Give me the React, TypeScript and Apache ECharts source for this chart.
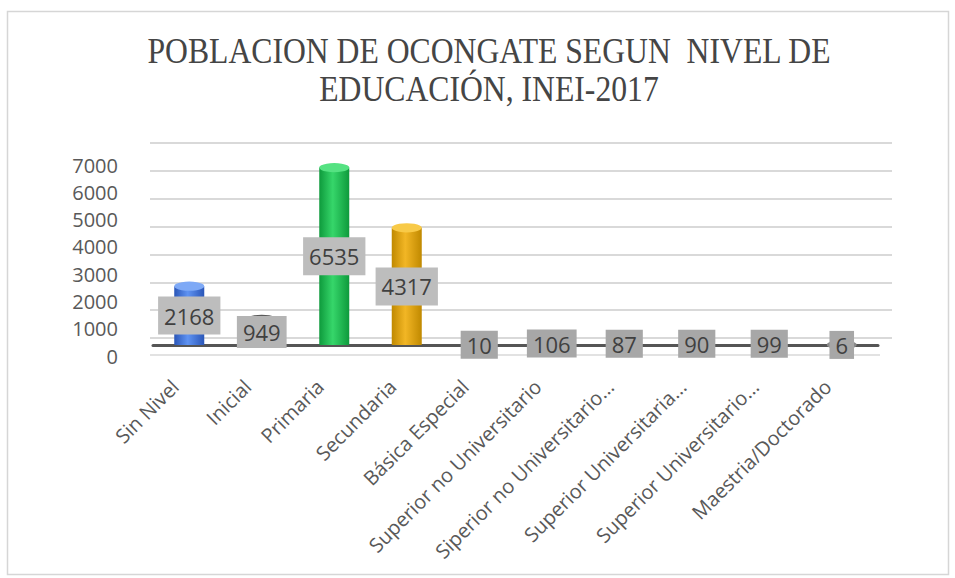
import React, { useEffect, useRef } from "react";
import * as echarts from "echarts";

const titleLines = ["POBLACION DE OCONGATE SEGUN  NIVEL DE", "EDUCACIÓN, INEI-2017"];
const categories = [
  "Sin Nivel",
  "Inicial",
  "Primaria",
  "Secundaria",
  "Básica Especial",
  "Superior no Universitario",
  "Siperior no Universitario...",
  "Superior Universitaria...",
  "Superior Universitario...",
  "Maestria/Doctorado",
];
const values = [2168, 949, 6535, 4317, 10, 106, 87, 90, 99, 6];
const yMin = 0;
const yMax = 7000;
const yStep = 1000;

const palette = [
  { side: "#2a56b8", mid: "#5f93f2", top: "#7ea9f6" },
  { side: "#6e6e6e", mid: "#9a9a9a", top: "#5a5a5a" },
  { side: "#0e9a3c", mid: "#36d66a", top: "#55e282" },
  { side: "#c08900", mid: "#f2b625", top: "#f8ca48" },
  { side: "#7a7a7a", mid: "#a8a8a8", top: "#8a8a8a" },
];

function colorFor(i: number) {
  return palette[Math.min(i, palette.length - 1)];
}

export default function App() {
  const ref = useRef<HTMLDivElement>(null);
  useEffect(() => {
    if (!ref.current) return;
    const chart = echarts.init(ref.current, undefined, { renderer: "svg" });
    const barData = values.map((v, i) => {
      const c = colorFor(i);
      return {
        value: v,
        itemStyle: {
          color: new echarts.graphic.LinearGradient(0, 0, 1, 0, [
            { offset: 0, color: c.side },
            { offset: 0.45, color: c.mid },
            { offset: 1, color: c.side },
          ]),
        },
      };
    });
    const capData = values.map((v, i) => ({
      value: v,
      itemStyle: { color: colorFor(i).top },
    }));
    const labelData = values.map((v) => {
      const big = v >= 2000;
      const mid = v >= 500;
      return {
        value: v,
        label: {
          padding: big ? [7, 6] : mid ? [4, 6] : [2, 6],
          backgroundColor: big ? "#bdbdbd" : mid ? "#b4b4b4" : "#a7a7a7",
        },
      };
    });
    const option = {
      animation: false,
      backgroundColor: "#ffffff",
      graphic: [
        {
          type: "rect",
          shape: { x: 7.5, y: 11.5, width: 941, height: 563 },
          style: { fill: "none", stroke: "#d6d6d6", lineWidth: 1.5 },
          silent: true,
        },
        {
          type: "text",
          x: 489,
          y: 51,
          scaleX: 0.88,
          style: {
            text: titleLines[0],
            font: "36px 'Liberation Serif'",
            fill: "#454545",
            align: "center",
            verticalAlign: "middle",
          },
        },
        {
          type: "text",
          x: 489,
          y: 89,
          scaleX: 0.88,
          style: {
            text: titleLines[1],
            font: "36px 'Liberation Serif'",
            fill: "#454545",
            align: "center",
            verticalAlign: "middle",
          },
        },
        {
          type: "line",
          shape: { x1: 150, y1: 355, x2: 880, y2: 355 },
          style: { stroke: "#d9d9d9", lineWidth: 1.5 },
          silent: true,
        },
      ],
      grid: [
        { left: 150, right: 63, top: 143, height: 195 },
        { left: 150, right: 63, top: 165, height: 191 },
        { left: 153, right: 77, top: 155, height: 190 },
      ],
      xAxis: [
        { type: "category", gridIndex: 0, data: categories, show: false },
        { type: "category", gridIndex: 1, data: categories, show: false },
        {
          type: "category",
          gridIndex: 2,
          data: categories,
          axisLine: { show: true, lineStyle: { color: "#555555", width: 3 } },
          axisTick: { show: false },
          axisLabel: {
            rotate: 45,
            interval: 0,
            margin: 24,
            padding: [0, 20, 0, 0],
            fontSize: 20,
            fontFamily: "Open Sans",
            color: "#595959",
          },
        },
      ],
      yAxis: [
        {
          type: "value",
          gridIndex: 0,
          min: yMin,
          max: yMax,
          interval: yStep,
          axisLabel: { show: false },
          axisLine: { show: false },
          axisTick: { show: false },
          splitLine: { show: true, lineStyle: { color: "#d9d9d9", width: 2 } },
        },
        {
          type: "value",
          gridIndex: 1,
          min: yMin,
          max: yMax,
          interval: yStep,
          axisLine: { show: false },
          axisTick: { show: false },
          splitLine: { show: false },
          axisLabel: {
            margin: 32,
            fontSize: 20,
            fontFamily: "Open Sans",
            color: "#595959",
            formatter: (v: number) => String(v),
          },
        },
        {
          type: "value",
          gridIndex: 2,
          min: yMin,
          max: yMax,
          interval: yStep,
          show: false,
          splitLine: { show: false },
        },
      ],
      series: [
        {
          type: "bar",
          xAxisIndex: 2,
          yAxisIndex: 2,
          barWidth: 30,
          data: barData,
          z: 2,
        },
        {
          type: "pictorialBar",
          xAxisIndex: 2,
          yAxisIndex: 2,
          symbol: "circle",
          symbolSize: [30, 9],
          symbolPosition: "end",
          symbolOffset: [0, "-50%"],
          data: capData,
          z: 3,
        },
        {
          type: "bar",
          xAxisIndex: 2,
          yAxisIndex: 2,
          barWidth: 30,
          barGap: "-100%",
          data: labelData,
          itemStyle: { color: "rgba(0,0,0,0)" },
          z: 5,
          label: {
            show: true,
            position: "inside",
            formatter: "{c}",
            fontSize: 22,
            lineHeight: 24,
            fontFamily: "Open Sans",
            color: "#404040",
          },
        },
      ],
    };
    chart.setOption(option as any);
    return () => chart.dispose();
  }, []);
  return (
    <div
      ref={ref}
      style={{ position: "fixed", left: 0, top: 0, width: 955, height: 578 }}
    />
  );
}
